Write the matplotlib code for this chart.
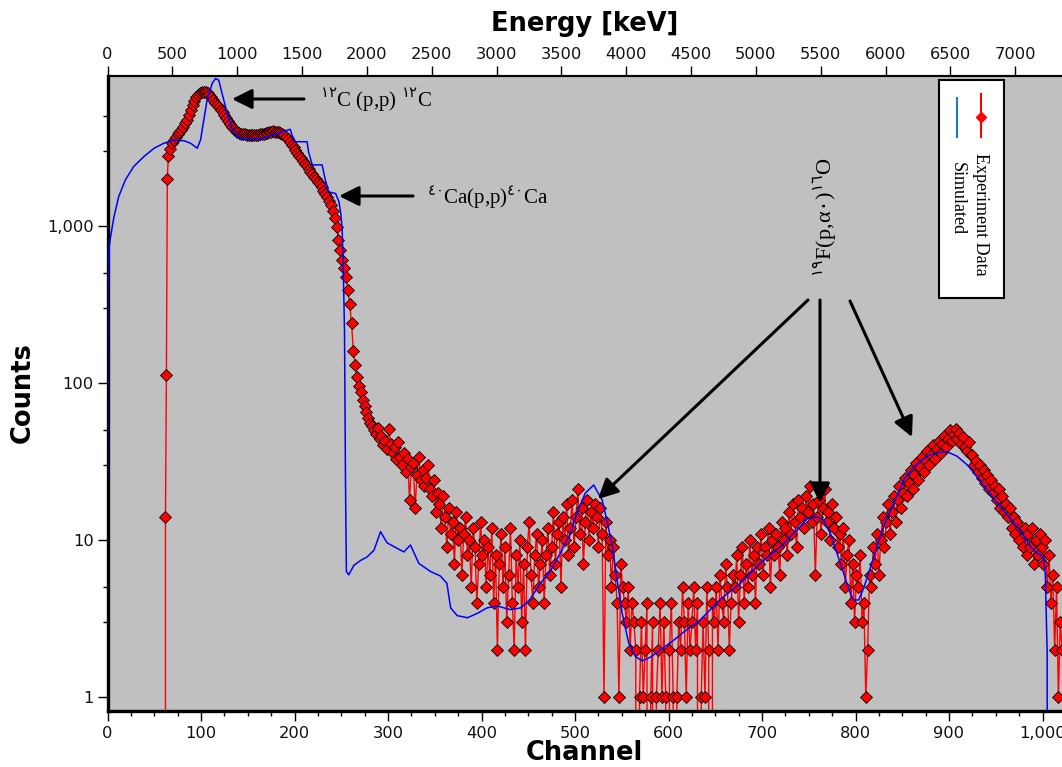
import numpy as np
import matplotlib
matplotlib.use("Agg")
import matplotlib.pyplot as plt
from matplotlib.ticker import FixedLocator, FuncFormatter, MultipleLocator, NullFormatter
from matplotlib.patches import Rectangle
from matplotlib.lines import Line2D

plt.rcParams['font.family'] = ['DejaVu Sans']
plt.rcParams['mathtext.fontset'] = 'dejavusans'

# ---------------- data ----------------
exp_pre_channels = [61, 62, 63, 64]
exp_pre_counts = [0, 14, 113, 1990]

exp_main_counts = [
    # 65 .. 283 (step 2)
    2790, 3100, 3400, 3550, 3700, 3850, 3950, 4100, 4300, 4500,
    4750, 5100, 5500, 5900, 6250, 6600, 6850, 7050, 7150, 7150,
    7100, 7000, 6850, 6600, 6350, 6100, 5900, 5700, 5500, 5350,
    5100, 4850, 4650, 4450, 4300, 4150, 4050, 3980, 3920, 3880,
    3850, 3830, 3800, 3800, 3780, 3800, 3790, 3810, 3820, 3840,
    3850, 3870, 3900, 3930, 3960, 3980, 4000, 3990, 3980, 3950,
    3920, 3850, 3780, 3700, 3580, 3450, 3300, 3180, 3050, 2930,
    2800, 2700, 2600, 2480, 2400, 2300, 2220, 2130, 2050, 1980,
    1900, 1840, 1760, 1680, 1600, 1520, 1450, 1360, 1250, 1120,
    980, 820, 700, 610, 540, 470, 390, 320, 240, 160,
    130, 110, 96, 88, 78, 71, 65, 60, 56, 53,
    # 285 .. 1021 (step 2)
    50, 47, 52, 44, 46, 40, 43, 38, 51, 41,
    36, 39, 33, 42, 34, 30, 36, 27, 33, 18,
    29, 31, 16, 26, 34, 24, 28, 22, 25, 30,
    21, 19, 24, 15, 20, 17, 12, 19, 14, 9,
    16, 11, 13, 7, 15, 10, 12, 6, 11, 14,
    8, 10, 5, 12, 9, 4, 7, 13, 8, 10,
    5, 9, 6, 12, 4, 8, 2, 7, 11, 5,
    9, 3, 6, 12, 4, 2, 8, 5, 10, 3,
    7, 2, 9, 13, 6, 4, 8, 11, 5, 7,
    10, 4, 8, 12, 6, 9, 15, 7, 11, 13,
    5, 14, 10, 17, 8, 12, 18, 9, 14, 21,
    11, 16, 7, 13, 18, 10, 15, 12, 17, 14,
    9, 16, 11, 1, 13, 8, 10, 5, 9, 6,
    4, 1, 7, 5, 4, 3, 5, 2, 4, 3,
    2, 0, 1, 3, 1, 2, 4, 0, 1, 3,
    0, 1, 2, 4, 1, 3, 1, 0, 2, 4,
    1, 0, 1, 3, 2, 5, 3, 1, 4, 2,
    3, 5, 2, 4, 0, 1, 3, 1, 5, 2,
    0, 4, 3, 5, 2, 6, 4, 3, 7, 5,
    2, 4, 6, 5, 8, 3, 6, 9, 4, 7,
    5, 10, 6, 8, 4, 9, 7, 11, 6, 9,
    8, 12, 5, 10, 8, 11, 9, 6, 13, 10,
    12, 8, 15, 11, 17, 13, 9, 18, 14, 16,
    12, 19, 15, 22, 13, 17, 6, 14, 18, 11,
    16, 21, 13, 15, 10, 17, 12, 14, 9, 11,
    7, 12, 5, 8, 10, 4, 7, 3, 6, 5,
    8, 3, 4, 1, 2, 6, 5, 9, 7, 11,
    6, 10, 14, 9, 13, 17, 11, 15, 19, 13,
    18, 22, 16, 20, 25, 19, 23, 28, 21, 26,
    31, 24, 29, 34, 27, 32, 37, 30, 35, 40,
    33, 38, 43, 36, 41, 46, 39, 44, 50, 43,
    47, 51, 44, 48, 41, 45, 39, 37, 42, 35,
    35, 30, 32, 27, 30, 25, 28, 23, 26, 21,
    24, 20, 22, 18, 21, 16, 19, 15, 17, 14,
    16, 12, 14, 11, 13, 10, 12, 9, 12, 8,
    11, 9, 12, 7, 10, 8, 11, 9, 7, 10,
    5, 8, 4, 6, 2, 5, 1, 3, 2,
]
exp_channels = np.concatenate([exp_pre_channels, np.arange(65, 1022, 2)])
exp_counts = np.array(exp_pre_counts + exp_main_counts, dtype=float)

sim_channels = [0, 0.5, 1.5, 3, 7, 12, 19, 28, 39, 50, 60, 71, 82, 89, 96, 99.5,
                103, 106.5, 112, 115.5, 119, 122.5, 128, 133, 138.5, 146, 160, 171,
                181.5, 195.5, 197.5, 201, 213.5, 215, 219, 229.5, 233, 236.5, 244,
                247.5, 249.5, 251, 252.5, 253.5, 254.5, 255.5, 258, 263.5, 270.5,
                277.5, 285, 292, 299, 306, 317, 324, 333, 345.5, 356, 363, 367, 374,
                385, 395, 406, 417, 431, 442, 452, 463, 474, 484.5, 495, 502, 511,
                520, 529, 534, 540, 545, 550.5, 557.5, 565, 572, 581, 591.5, 605.5,
                620, 634, 655.5, 677, 698, 720, 737.5, 748, 757, 766, 773, 780,
                787.5, 793, 798, 803.5, 809, 816, 823, 830, 841, 851.5, 862.5, 876.5,
                887.5, 898, 908.5, 919.5, 930, 941, 951.5, 962, 973, 980, 987, 994,
                1001, 1003, 1005, 1006]
sim_counts = [24, 400, 700, 835, 1150, 1540, 1960, 2390, 2770, 3130, 3360, 3530,
              3490, 3360, 3130, 3530, 4730, 6340, 8100, 8700, 8480, 7000, 5230, 4190,
              3700, 3570, 3570, 3700, 3890, 4130, 3760, 3440, 3440, 2970, 2450, 2450,
              1960, 1650, 1610, 1430, 1200, 950, 430, 210, 25, 6.3, 6.0, 6.9, 7.4, 7.8,
              8.6, 11.3, 9.6, 9.1, 8.4, 9.3, 7.1, 6.3, 5.9, 5.3, 3.7, 3.3, 3.2, 3.4,
              3.7, 3.8, 3.6, 3.7, 4.2, 5.3, 6.4, 8.3, 11.0, 14.8, 19.9, 22.4, 18.0,
              13.4, 9.1, 5.6, 3.4, 2.2, 1.8, 1.7, 1.8, 2.0, 2.3, 2.7, 3.1, 4.2, 5.3,
              7.1, 9.1, 11.6, 13.6, 14.1, 13.4, 11.0, 8.3, 6.1, 4.8, 4.15, 4.15, 5.0,
              6.7, 9.1, 12.2, 17.2, 24.1, 29.3, 34.2, 36.0, 36.5, 34.2, 30.1, 25.3,
              20.8, 17.2, 14.5, 12.2, 10.6, 9.1, 8.3, 7.8, 6.1, 1.9, 0]

channel_ticks = [0, 100, 200, 300, 400, 500, 600, 700, 800, 900, 1000]
energy_ticks = [0, 500, 1000, 1500, 2000, 2500, 3000, 3500, 4000, 4500, 5000,
                5500, 6000, 6500, 7000]
count_ticks = [1, 10, 100, 1000]
kev_per_channel = 7.21

legend_labels = ["Experiment Data", "Simulated"]
label_c12 = r"$^{\mathrm{١٢}}$C (p,p) $^{\mathrm{١٢}}$C"
label_ca40 = r"$^{\mathrm{٤٠}}$Ca(p,p)$^{\mathrm{٤٠}}$Ca"
label_f19 = r"$^{\mathrm{١٩}}$F(p,α$\mathrm{٠}$)$^{\mathrm{١٦}}$O"

# ---------------- figure ----------------
W, H = 1062, 767
fig = plt.figure(figsize=(W / 100, H / 100), dpi=100)
fig.patch.set_facecolor('white')

L, R, T, B = 107.5, 1062, 76, 711
ax = fig.add_axes([L / W, 1 - B / H, (R - L) / W, (B - T) / H])
ax.set_facecolor('#C0C0C0')
ax.set_yscale('log', nonpositive='clip')
ax.set_xlim(0, (R - L) / 0.935)
ax.set_ylim(0.815, 9020)

red = '#FF0000'
ax.plot(exp_channels, exp_counts, color=red, lw=1.0, marker='D', ms=6.3,
        mfc=red, mec='black', mew=0.6, zorder=2, clip_on=True)
ax.plot(sim_channels, sim_counts, color='#0000FF', lw=1.1, zorder=3)

# axes formatting
ax.xaxis.set_major_locator(FixedLocator(channel_ticks))
ax.xaxis.set_minor_locator(MultipleLocator(25))
ax.xaxis.set_major_formatter(FuncFormatter(lambda v, p: f"{v:,.0f}"))
ax.yaxis.set_major_locator(FixedLocator(count_ticks))
minor_y = [m * d for d in (1, 10, 100, 1000) for m in (3, 5)]
ax.yaxis.set_minor_locator(FixedLocator(minor_y))
ax.yaxis.set_minor_formatter(NullFormatter())
ax.yaxis.set_major_formatter(FuncFormatter(lambda v, p: f"{v:,.0f}"))
ax.tick_params(axis='both', which='major', direction='out', length=7, width=1,
               labelsize=11.7, colors='black', labelcolor='#111111')
ax.tick_params(axis='both', which='minor', direction='out', length=3.5, width=1)
ax.tick_params(axis='x', pad=3.5)
ax.tick_params(axis='y', pad=3)
ax.tick_params(top=False, right=False)

ax.spines['right'].set_visible(False)
ax.spines['left'].set_linewidth(2.4)
ax.spines['bottom'].set_linewidth(2.4)
ax.spines['top'].set_linewidth(1.5)

sec = ax.secondary_xaxis('top', functions=(lambda c: c * kev_per_channel,
                                           lambda e: e / kev_per_channel))
sec.set_xticks(energy_ticks)
sec.set_xticklabels([str(v) for v in energy_ticks])
sec.tick_params(direction='out', length=7, width=1, labelsize=11.7, pad=3,
                labelcolor='#111111')
sec.spines['top'].set_linewidth(1.5)

# axis titles
fig.text(585 / W, 1 - 31 / H, "Energy [keV]", ha='center', va='baseline',
         fontsize=18.5, fontweight='bold')
fig.text(584 / W, 1 - 760 / H, "Channel", ha='center', va='baseline',
         fontsize=18.5, fontweight='bold')
fig.text(22.5 / W, 1 - 393 / H, "Counts", ha='center', va='center',
         rotation=90, fontsize=18.5, fontweight='bold')


def fp(x, y):
    return (x, H - y)


arrow_kw = dict(arrowstyle='-|>,head_length=1.0,head_width=0.5', lw=2.2,
                color='black', mutation_scale=12, shrinkA=0, shrinkB=0)


def arrow(tail, tip):
    ax.annotate('', xy=fp(*tip), xytext=fp(*tail), xycoords='figure pixels',
                textcoords='figure pixels', arrowprops=arrow_kw, annotation_clip=False)


serif = ['Liberation Serif', 'DejaVu Sans']
arrow((304, 99), (232, 99))
fig.text(320 / W, 1 - 100 / H, label_c12, ha='left', va='center', fontsize=15,
         family=serif)
arrow((413, 196), (339, 196))
fig.text(427 / W, 1 - 197 / H, label_ca40, ha='left', va='center', fontsize=15,
         family=serif)

fig.text(826 / W, 1 - 217 / H, label_f19, ha='center', va='center', rotation=90,
         fontsize=16, family=serif)
arrow((808, 300), (598, 499))
arrow((820, 300), (820, 503))
arrow((850, 301), (912, 437))

# legend (drawn rotated, as in the original)
fig.add_artist(Rectangle((939 / W, 1 - 298 / H), 65 / W, 218 / H,
                         transform=fig.transFigure, facecolor='white',
                         edgecolor='black', lw=1.5, zorder=10))
fig.add_artist(Line2D([981 / W, 981 / W], [1 - 94 / H, 1 - 137 / H],
                      transform=fig.transFigure, color=red, lw=1.5, zorder=11))
fig.add_artist(Line2D([981 / W], [1 - 117 / H], transform=fig.transFigure,
                      marker='D', ms=5.5, mfc=red, mec=red, ls='none', zorder=12))
fig.add_artist(Line2D([957 / W, 957 / W], [1 - 98 / H, 1 - 137 / H],
                      transform=fig.transFigure, color='#1f78d0', lw=1.5, zorder=11))
fig.text(981 / W, 1 - 153 / H, legend_labels[0], ha='center', va='top',
         rotation=-90, fontsize=13, family=serif, zorder=12)
fig.text(957 / W, 1 - 162 / H, legend_labels[1], ha='center', va='top',
         rotation=-90, fontsize=13, family=serif, zorder=12)

fig.savefig('out.png', dpi=100)
